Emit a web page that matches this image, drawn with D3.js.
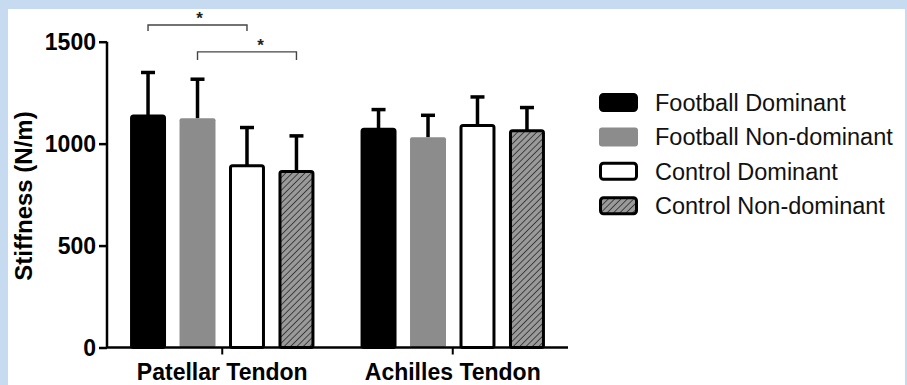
<!DOCTYPE html>
<html>
<head>
<meta charset="utf-8">
<script src="https://cdn.jsdelivr.net/npm/d3@7"></script>
<style>
  html, body { margin: 0; padding: 0; background: #c6dbef; }
  svg { display: block; }
</style>
</head>
<body>
<svg id="chart" width="907" height="385"></svg>
<script>
const categories = ["Patellar Tendon", "Achilles Tendon"];
const seriesNames = ["Football Dominant", "Football Non-dominant", "Control Dominant", "Control Non-dominant"];
const meanValues = [
  [1136, 1124, 891, 863],
  [1071, 1031, 1089, 1063]
];
const errorTops = [
  [1349, 1316, 1079, 1038],
  [1167, 1139, 1229, 1177]
];
const yTicks = [0, 500, 1000, 1500];
const yLabel = "Stiffness (N/m)";
// significance brackets: [category index, from series, to series, level, label]
const sigBrackets = [
  { cat: 0, from: 0, to: 2, level: 1582, label: "*" },
  { cat: 0, from: 1, to: 3, level: 1450, label: "*" }
];

const svg = d3.select("#chart");
svg.append("rect").attr("x", 8).attr("y", 9).attr("width", 897).attr("height", 376).attr("fill", "#ffffff");

const defs = svg.append("defs");
const pat = defs.append("pattern")
  .attr("id", "hatch").attr("patternUnits", "userSpaceOnUse")
  .attr("width", 4.5).attr("height", 4.5)
  .attr("patternTransform", "rotate(45)");
pat.append("rect").attr("width", 4.5).attr("height", 4.5).attr("fill", "#9a9a9a");
pat.append("line").attr("x1", 0).attr("y1", 0).attr("x2", 0).attr("y2", 4.5)
  .attr("stroke", "#222").attr("stroke-width", 1.5);

const styles = [
  { fill: "#000000", stroke: "#000000", sw: 3 },
  { fill: "#8c8c8c", stroke: "none", sw: 0 },
  { fill: "#ffffff", stroke: "#000000", sw: 3 },
  { fill: "url(#hatch)", stroke: "#000000", sw: 3 }
];

const x0 = d3.scaleBand().domain(categories).range([107, 568]).paddingInner(0.2).paddingOuter(0.1);
const x1 = d3.scaleBand().domain(d3.range(seriesNames.length)).range([0, x0.bandwidth()]).paddingInner(0.273).paddingOuter(0);
const y = d3.scaleLinear().domain([0, 1500]).range([347.5, 41.7]);

const font = "Arial, 'Liberation Sans', Helvetica, sans-serif";

// error bars (drawn first so bar tops cover their base)
categories.forEach((c, ci) => {
  const g = svg.append("g");
  seriesNames.forEach((s, si) => {
    const cx = x0(c) + x1(si) + x1.bandwidth() / 2;
    g.append("line").attr("x1", cx).attr("x2", cx)
      .attr("y1", y(meanValues[ci][si])).attr("y2", y(errorTops[ci][si]))
      .attr("stroke", "#000").attr("stroke-width", 3.5);
    g.append("line").attr("x1", cx - 7).attr("x2", cx + 7)
      .attr("y1", y(errorTops[ci][si])).attr("y2", y(errorTops[ci][si]))
      .attr("stroke", "#000").attr("stroke-width", 3.5);
  });
});

// bars
categories.forEach((c, ci) => {
  const g = svg.append("g");
  seriesNames.forEach((s, si) => {
    const st = styles[si];
    const inset = st.sw / 2;
    const bx = x0(c) + x1(si);
    g.append("rect")
      .attr("x", bx + inset)
      .attr("y", y(meanValues[ci][si]))
      .attr("width", x1.bandwidth() - 2 * inset)
      .attr("height", y(0) - y(meanValues[ci][si]))
      .attr("rx", 2)
      .attr("fill", st.fill).attr("stroke", st.stroke).attr("stroke-width", st.sw);
  });
});

// y axis
const yAxis = svg.append("g").attr("transform", "translate(107,0)")
  .call(d3.axisLeft(y).tickValues(yTicks).tickSize(8).tickPadding(3).tickFormat(d3.format("d")));
yAxis.select(".domain").attr("stroke", "#000").attr("stroke-width", 2.5).attr("d", `M0,${y(1500)}V${y(0)}`);
yAxis.selectAll(".tick line").attr("stroke", "#000").attr("stroke-width", 2.5);
yAxis.selectAll(".tick text").attr("fill", "#000").style("font-family", font).style("font-size", "23px").style("font-weight", "bold").attr("dy", "0.36em");

// x axis
const xAxis = svg.append("g").attr("transform", `translate(0,${y(0)})`)
  .call(d3.axisBottom(x0).tickSize(7).tickPadding(9).tickSizeOuter(0));
xAxis.select(".domain").attr("stroke", "#000").attr("stroke-width", 2.5).attr("d", `M106,0H568`);
xAxis.selectAll(".tick line").attr("stroke", "#000").attr("stroke-width", 2);
xAxis.selectAll(".tick text").attr("fill", "#000").style("font-family", font).style("font-size", "23px").style("font-weight", "bold");

// y label
svg.append("text")
  .attr("transform", "translate(32,196) rotate(-90)")
  .attr("text-anchor", "middle")
  .style("font-family", font).style("font-size", "24px").style("font-weight", "bold")
  .text(yLabel);

// significance brackets
sigBrackets.forEach((b, i) => {
  const c = categories[b.cat];
  const xa = x0(c) + x1(b.from) + x1.bandwidth() / 2;
  const xb = x0(c) + x1(b.to) + x1.bandwidth() / 2;
  const yl = y(b.level);
  const drop = i === 0 ? 6 : 8;
  svg.append("path")
    .attr("d", `M${xa},${yl + drop}V${yl}H${xb}V${yl + drop}`)
    .attr("fill", "none").attr("stroke", "#444").attr("stroke-width", 1.4);
  const sx = i === 0 ? (xa + xb) / 2 + 2 : xb - 36;
  svg.append("text").attr("x", sx).attr("y", yl - 1)
    .attr("text-anchor", "middle")
    .style("font-family", font).style("font-size", "17px").style("font-weight", "bold")
    .attr("fill", "#222")
    .text(b.label);
});

// legend
const legend = svg.append("g").attr("transform", "translate(599,93)");
seriesNames.forEach((s, si) => {
  const st = styles[si];
  const gy = si * 34.4;
  const inset = st.sw / 2;
  legend.append("rect")
    .attr("x", inset).attr("y", gy + inset)
    .attr("width", 39 - 2 * inset).attr("height", 19 - 2 * inset)
    .attr("rx", 3)
    .attr("fill", st.fill).attr("stroke", st.stroke).attr("stroke-width", st.sw);
  legend.append("text")
    .attr("x", 56).attr("y", gy + 9.5).attr("dy", "0.36em")
    .style("font-family", font).style("font-size", "23.5px")
    .attr("fill", "#111")
    .text(s);
});
</script>
</body>
</html>
